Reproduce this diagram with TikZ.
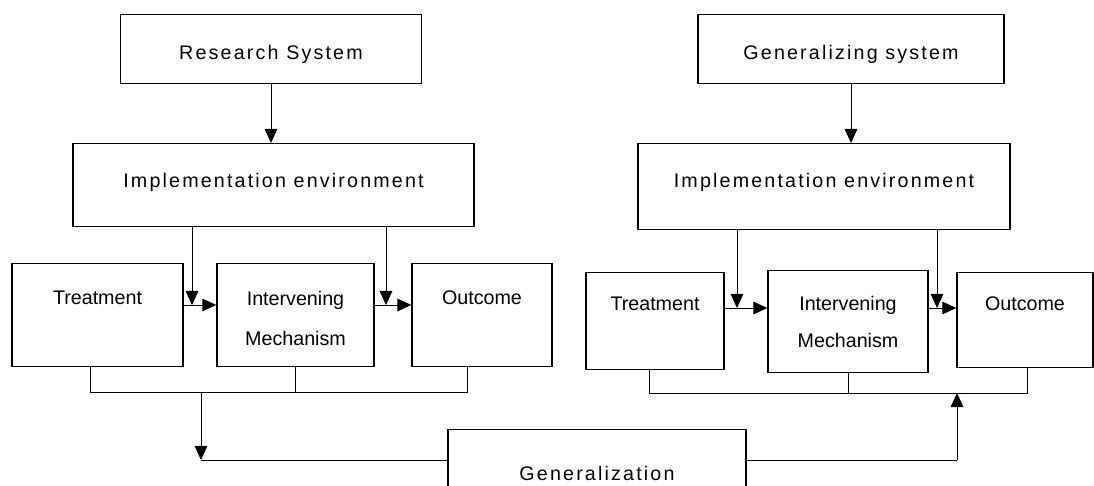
\documentclass[tikz,border=0pt]{standalone}
\usepackage{fontspec}
\setmainfont{Liberation Sans}
\newfontfamily\largefont[LetterSpace=11]{Liberation Sans}
\usepackage{tikz}
\usetikzlibrary{arrows.meta}
\usetikzlibrary{positioning}
\tikzstyle{bloc}=[draw,rectangle,anchor=north,inner sep=0pt,line width=0.9pt,
        font=\fontsize{14pt}{17pt}\selectfont]
\tikzstyle{grandbloc}=[bloc,font=\largefont\fontsize{14pt}{17pt}\selectfont]
\tikzstyle{suite}=[-{Triangle[length=10pt,width=9pt]},line width=0.7pt]
\tikzstyle{lien}=[line width=0.7pt]

\begin{document}
\begin{tikzpicture}[x=0.025cm,y=-0.025cm]
\useasboundingbox (0,0) rectangle (1094,486);
\fill[white] (0,0) rectangle (1094,486);
\clip (0,0) rectangle (1094,486);
%left system
\node[grandbloc,minimum width=7.525cm,text height=1.125cm,text depth=0.6cm] (rs) at (271,14) {Research System};
\node[grandbloc,minimum width=10.025cm,text height=1.1cm,text depth=0.975cm] (impl1) at (273.5,143) {Implementation environment};
\node[bloc,minimum width=4.275cm,text height=1.025cm,text depth=1.55cm] (treat1) at (97.5,263) {Treatment};
\node[bloc,minimum width=3.925cm,text height=2.05cm,text depth=0.525cm,align=center,
      font=\fontsize{14pt}{1cm}\selectfont] (inter1) at (295.5,263) {Intervening\\Mechanism};
\node[bloc,minimum width=3.5cm,text height=1.025cm,text depth=1.55cm] (out1) at (482,263) {Outcome};
%right system
\node[grandbloc,minimum width=7.65cm,text height=1.125cm,text depth=0.6cm] (gs) at (851,14) {Generalizing system};
\node[grandbloc,minimum width=9.3cm,text height=1.1cm,text depth=1.05cm] (impl2) at (824,143) {Implementation environment};
\node[bloc,minimum width=3.45cm,text height=0.95cm,text depth=1.475cm] (treat2) at (655,272) {Treatment};
\node[bloc,minimum width=4cm,text height=1.925cm,text depth=0.625cm,align=center,
      font=\fontsize{14pt}{0.925cm}\selectfont] (inter2) at (848,270) {Intervening\\Mechanism};
\node[bloc,minimum width=3.4cm,text height=0.95cm,text depth=1.425cm] (out2) at (1025,272) {Outcome};
%bottom
\node[grandbloc,minimum width=7.45cm,text height=1.275cm,text depth=1cm] (gen) at (597,429) {Generalization};

%points
\coordinate (j1) at (192,305);
\coordinate (j2) at (386,305);
\coordinate (j3) at (737,308);
\coordinate (j4) at (937,308);
\coordinate (b1) at (90,392);
\coordinate (b2) at (467,392);
\coordinate (b3) at (649,393);
\coordinate (b4) at (1027,393);
\coordinate (g1) at (201,392);
\coordinate (g2) at (201,460);
\coordinate (g3) at (957,460);
\coordinate (g4) at (957,393);

%fleches
\draw[suite] (rs.south) -- (rs.south |- impl1.north);
\draw[suite] (impl1.south -| j1) -- (j1);
\draw[suite] (impl1.south -| j2) -- (j2);
\draw[suite] (treat1.east |- j1) -- (inter1.west |- j1);
\draw[suite] (inter1.east |- j2) -- (out1.west |- j2);
\draw[lien] (treat1.south -| b1) -- (b1) -- (b2) -- (out1.south -| b2);
\draw[lien] (inter1.south) -- (inter1.south |- b1);
\draw[suite] (g1) -- (g2);
\draw[lien] (g2) -- (gen.west |- g2);

\draw[suite] (gs.south) -- (gs.south |- impl2.north);
\draw[suite] (impl2.south -| j3) -- (j3);
\draw[suite] (impl2.south -| j4) -- (j4);
\draw[suite] (treat2.east |- j3) -- (inter2.west |- j3);
\draw[suite] (inter2.east |- j4) -- (out2.west |- j4);
\draw[lien] (treat2.south -| b3) -- (b3) -- (b4) -- (out2.south -| b4);
\draw[lien] (inter2.south) -- (inter2.south |- b3);
\draw[lien] (gen.east |- g3) -- (g3);
\draw[suite] (g3) -- (g4);
\end{tikzpicture}
\end{document}
